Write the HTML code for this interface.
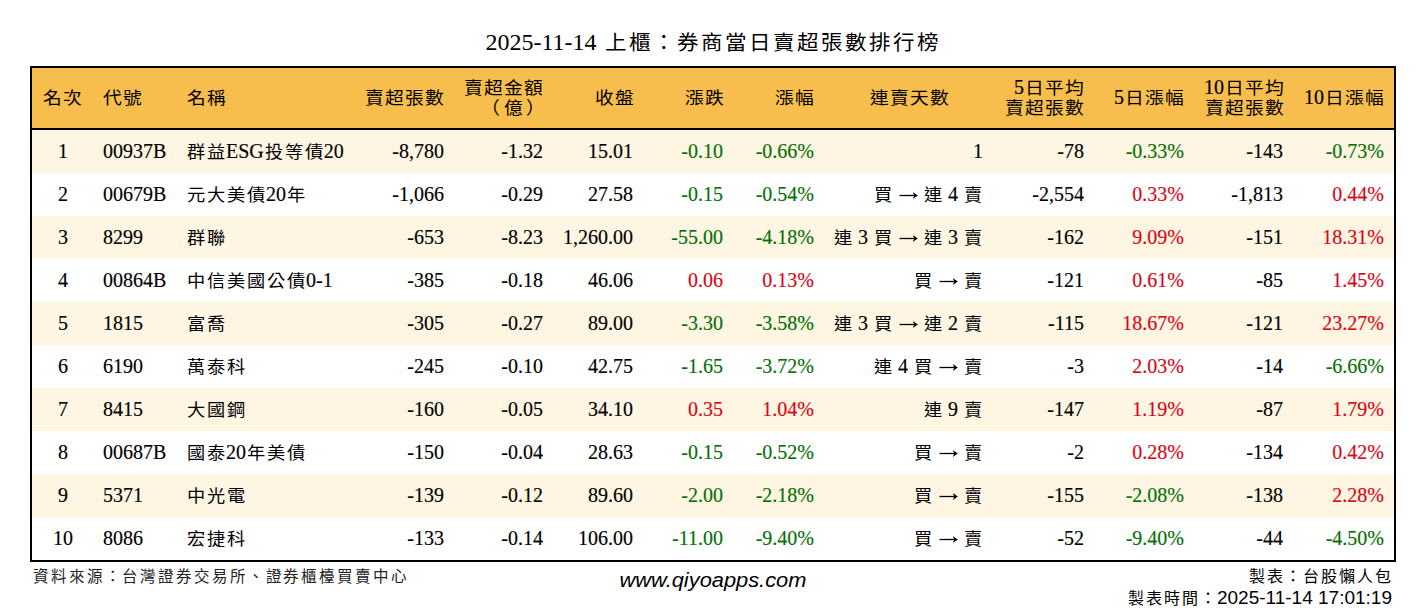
<!DOCTYPE html>
<html lang="zh-TW"><head><meta charset="utf-8">
<style>
html,body{margin:0;padding:0;background:#fff;}
body{width:1426px;height:612px;position:relative;overflow:hidden;font-family:"Liberation Serif",serif;color:#000;}
.a{position:absolute;white-space:nowrap;}
.r{position:absolute;white-space:nowrap;text-align:right;}
.d{font-size:20px;line-height:43px;height:43px;-webkit-text-stroke:0.15px currentColor;}
.h{font-size:20px;line-height:20px;-webkit-text-stroke:0.2px currentColor;}
i{font-style:normal;display:inline-block;text-align:center;}
.k{width:20px;font-size:17px;transform:scaleX(1.07);}
.h .k{font-size:17.5px;}
.d .k,.h .k{-webkit-text-stroke:0;}
.ar{width:20px;}
.ar svg{display:inline-block;vertical-align:-0.5px;}
.kt{width:24px;font-size:20.5px;transform:scaleX(1.05);}
.kf{width:17.9px;font-size:15.5px;color:#222;}
.kr{width:18px;font-size:16px;}
.g{color:#057005}.rd{color:#DA0514}
</style></head><body>

<div class="a" style="left:-1px;width:1426px;text-align:center;top:27px;font-size:24px;line-height:30px;">2025-11-14 <i class="kt">上</i><i class="kt">櫃</i><i class="kt">：</i><i class="kt">券</i><i class="kt">商</i><i class="kt">當</i><i class="kt">日</i><i class="kt">賣</i><i class="kt">超</i><i class="kt">張</i><i class="kt">數</i><i class="kt">排</i><i class="kt">行</i><i class="kt">榜</i></div>
<div class="a" style="left:30px;top:66px;width:1362px;height:492px;border:2px solid #000;"></div>
<div class="a" style="left:32px;top:68px;width:1362px;height:60px;background:#F7BE4D;"></div>
<div class="a" style="left:32px;top:128px;width:1362px;height:2px;background:#000;"></div>
<div class="a" style="left:32px;top:130px;width:1362px;height:43px;background:#FEF5E2;"></div>
<div class="a" style="left:32px;top:216px;width:1362px;height:43px;background:#FEF5E2;"></div>
<div class="a" style="left:32px;top:302px;width:1362px;height:43px;background:#FEF5E2;"></div>
<div class="a" style="left:32px;top:388px;width:1362px;height:43px;background:#FEF5E2;"></div>
<div class="a" style="left:32px;top:474px;width:1362px;height:43px;background:#FEF5E2;"></div>
<div class="a h" style="left:-38px;width:200px;text-align:center;top:87px;"><i class="k">名</i><i class="k">次</i></div>
<div class="a h" style="left:102px;top:87px;"><i class="k">代</i><i class="k">號</i></div>
<div class="a h" style="left:186px;top:87px;"><i class="k">名</i><i class="k">稱</i></div>
<div class="r h" style="right:982px;top:87px;"><i class="k">賣</i><i class="k">超</i><i class="k">張</i><i class="k">數</i></div>
<div class="r h" style="right:883px;top:77px;"><i class="k">賣</i><i class="k">超</i><i class="k">金</i><i class="k">額</i></div>
<div class="r h" style="right:883px;top:97px;"><i class="k" style="position:relative;left:-3px">（</i><i class="k">億</i><i class="k" style="position:relative;left:2px">）</i></div>
<div class="r h" style="right:792px;top:87px;"><i class="k">收</i><i class="k">盤</i></div>
<div class="r h" style="right:702px;top:87px;"><i class="k">漲</i><i class="k">跌</i></div>
<div class="r h" style="right:612px;top:87px;"><i class="k">漲</i><i class="k">幅</i></div>
<div class="a h" style="left:809px;width:200px;text-align:center;top:87px;"><i class="k">連</i><i class="k">賣</i><i class="k">天</i><i class="k">數</i></div>
<div class="r h" style="right:342px;top:77px;">5<i class="k">日</i><i class="k">平</i><i class="k">均</i></div>
<div class="r h" style="right:342px;top:97px;"><i class="k">賣</i><i class="k">超</i><i class="k">張</i><i class="k">數</i></div>
<div class="r h" style="right:242px;top:87px;">5<i class="k">日</i><i class="k">漲</i><i class="k">幅</i></div>
<div class="r h" style="right:142px;top:77px;">10<i class="k">日</i><i class="k">平</i><i class="k">均</i></div>
<div class="r h" style="right:142px;top:97px;"><i class="k">賣</i><i class="k">超</i><i class="k">張</i><i class="k">數</i></div>
<div class="r h" style="right:42px;top:87px;">10<i class="k">日</i><i class="k">漲</i><i class="k">幅</i></div>
<div class="a d" style="left:33px;width:60px;text-align:center;top:130px;">1</div>
<div class="a d" style="left:103px;top:130px;">00937B</div>
<div class="a d" style="left:186px;top:130px;"><i class="k">群</i><i class="k">益</i>ESG<i class="k">投</i><i class="k">等</i><i class="k">債</i>20</div>
<div class="r d" style="right:982px;top:130px;">-8,780</div>
<div class="r d" style="right:883px;top:130px;">-1.32</div>
<div class="r d" style="right:793px;top:130px;">15.01</div>
<div class="r d g" style="right:703px;top:130px;">-0.10</div>
<div class="r d g" style="right:612px;top:130px;">-0.66%</div>
<div class="r d" style="right:443px;top:130px;">1</div>
<div class="r d" style="right:342px;top:130px;">-78</div>
<div class="r d g" style="right:242px;top:130px;">-0.33%</div>
<div class="r d" style="right:143px;top:130px;">-143</div>
<div class="r d g" style="right:42px;top:130px;">-0.73%</div>
<div class="a d" style="left:33px;width:60px;text-align:center;top:173px;">2</div>
<div class="a d" style="left:103px;top:173px;">00679B</div>
<div class="a d" style="left:186px;top:173px;"><i class="k">元</i><i class="k">大</i><i class="k">美</i><i class="k">債</i>20<i class="k">年</i></div>
<div class="r d" style="right:982px;top:173px;">-1,066</div>
<div class="r d" style="right:883px;top:173px;">-0.29</div>
<div class="r d" style="right:793px;top:173px;">27.58</div>
<div class="r d g" style="right:703px;top:173px;">-0.15</div>
<div class="r d g" style="right:612px;top:173px;">-0.54%</div>
<div class="r d" style="right:443px;top:173px;"><i class="k">買</i> <i class="ar"><svg width="20" height="12" viewBox="0 0 20 12"><path d="M1.5 5.5H18" stroke="#000" stroke-width="1.3"/><path d="M14.8 1.9L19.8 5.5L14.8 9.1L16.3 5.5Z" fill="#000"/></svg></i> <i class="k">連</i> 4 <i class="k">賣</i></div>
<div class="r d" style="right:342px;top:173px;">-2,554</div>
<div class="r d rd" style="right:242px;top:173px;">0.33%</div>
<div class="r d" style="right:143px;top:173px;">-1,813</div>
<div class="r d rd" style="right:42px;top:173px;">0.44%</div>
<div class="a d" style="left:33px;width:60px;text-align:center;top:216px;">3</div>
<div class="a d" style="left:103px;top:216px;">8299</div>
<div class="a d" style="left:186px;top:216px;"><i class="k">群</i><i class="k">聯</i></div>
<div class="r d" style="right:982px;top:216px;">-653</div>
<div class="r d" style="right:883px;top:216px;">-8.23</div>
<div class="r d" style="right:793px;top:216px;">1,260.00</div>
<div class="r d g" style="right:703px;top:216px;">-55.00</div>
<div class="r d g" style="right:612px;top:216px;">-4.18%</div>
<div class="r d" style="right:443px;top:216px;"><i class="k">連</i> 3 <i class="k">買</i> <i class="ar"><svg width="20" height="12" viewBox="0 0 20 12"><path d="M1.5 5.5H18" stroke="#000" stroke-width="1.3"/><path d="M14.8 1.9L19.8 5.5L14.8 9.1L16.3 5.5Z" fill="#000"/></svg></i> <i class="k">連</i> 3 <i class="k">賣</i></div>
<div class="r d" style="right:342px;top:216px;">-162</div>
<div class="r d rd" style="right:242px;top:216px;">9.09%</div>
<div class="r d" style="right:143px;top:216px;">-151</div>
<div class="r d rd" style="right:42px;top:216px;">18.31%</div>
<div class="a d" style="left:33px;width:60px;text-align:center;top:259px;">4</div>
<div class="a d" style="left:103px;top:259px;">00864B</div>
<div class="a d" style="left:186px;top:259px;"><i class="k">中</i><i class="k">信</i><i class="k">美</i><i class="k">國</i><i class="k">公</i><i class="k">債</i>0-1</div>
<div class="r d" style="right:982px;top:259px;">-385</div>
<div class="r d" style="right:883px;top:259px;">-0.18</div>
<div class="r d" style="right:793px;top:259px;">46.06</div>
<div class="r d rd" style="right:703px;top:259px;">0.06</div>
<div class="r d rd" style="right:612px;top:259px;">0.13%</div>
<div class="r d" style="right:443px;top:259px;"><i class="k">買</i> <i class="ar"><svg width="20" height="12" viewBox="0 0 20 12"><path d="M1.5 5.5H18" stroke="#000" stroke-width="1.3"/><path d="M14.8 1.9L19.8 5.5L14.8 9.1L16.3 5.5Z" fill="#000"/></svg></i> <i class="k">賣</i></div>
<div class="r d" style="right:342px;top:259px;">-121</div>
<div class="r d rd" style="right:242px;top:259px;">0.61%</div>
<div class="r d" style="right:143px;top:259px;">-85</div>
<div class="r d rd" style="right:42px;top:259px;">1.45%</div>
<div class="a d" style="left:33px;width:60px;text-align:center;top:302px;">5</div>
<div class="a d" style="left:103px;top:302px;">1815</div>
<div class="a d" style="left:186px;top:302px;"><i class="k">富</i><i class="k">喬</i></div>
<div class="r d" style="right:982px;top:302px;">-305</div>
<div class="r d" style="right:883px;top:302px;">-0.27</div>
<div class="r d" style="right:793px;top:302px;">89.00</div>
<div class="r d g" style="right:703px;top:302px;">-3.30</div>
<div class="r d g" style="right:612px;top:302px;">-3.58%</div>
<div class="r d" style="right:443px;top:302px;"><i class="k">連</i> 3 <i class="k">買</i> <i class="ar"><svg width="20" height="12" viewBox="0 0 20 12"><path d="M1.5 5.5H18" stroke="#000" stroke-width="1.3"/><path d="M14.8 1.9L19.8 5.5L14.8 9.1L16.3 5.5Z" fill="#000"/></svg></i> <i class="k">連</i> 2 <i class="k">賣</i></div>
<div class="r d" style="right:342px;top:302px;">-115</div>
<div class="r d rd" style="right:242px;top:302px;">18.67%</div>
<div class="r d" style="right:143px;top:302px;">-121</div>
<div class="r d rd" style="right:42px;top:302px;">23.27%</div>
<div class="a d" style="left:33px;width:60px;text-align:center;top:345px;">6</div>
<div class="a d" style="left:103px;top:345px;">6190</div>
<div class="a d" style="left:186px;top:345px;"><i class="k">萬</i><i class="k">泰</i><i class="k">科</i></div>
<div class="r d" style="right:982px;top:345px;">-245</div>
<div class="r d" style="right:883px;top:345px;">-0.10</div>
<div class="r d" style="right:793px;top:345px;">42.75</div>
<div class="r d g" style="right:703px;top:345px;">-1.65</div>
<div class="r d g" style="right:612px;top:345px;">-3.72%</div>
<div class="r d" style="right:443px;top:345px;"><i class="k">連</i> 4 <i class="k">買</i> <i class="ar"><svg width="20" height="12" viewBox="0 0 20 12"><path d="M1.5 5.5H18" stroke="#000" stroke-width="1.3"/><path d="M14.8 1.9L19.8 5.5L14.8 9.1L16.3 5.5Z" fill="#000"/></svg></i> <i class="k">賣</i></div>
<div class="r d" style="right:342px;top:345px;">-3</div>
<div class="r d rd" style="right:242px;top:345px;">2.03%</div>
<div class="r d" style="right:143px;top:345px;">-14</div>
<div class="r d g" style="right:42px;top:345px;">-6.66%</div>
<div class="a d" style="left:33px;width:60px;text-align:center;top:388px;">7</div>
<div class="a d" style="left:103px;top:388px;">8415</div>
<div class="a d" style="left:186px;top:388px;"><i class="k">大</i><i class="k">國</i><i class="k">鋼</i></div>
<div class="r d" style="right:982px;top:388px;">-160</div>
<div class="r d" style="right:883px;top:388px;">-0.05</div>
<div class="r d" style="right:793px;top:388px;">34.10</div>
<div class="r d rd" style="right:703px;top:388px;">0.35</div>
<div class="r d rd" style="right:612px;top:388px;">1.04%</div>
<div class="r d" style="right:443px;top:388px;"><i class="k">連</i> 9 <i class="k">賣</i></div>
<div class="r d" style="right:342px;top:388px;">-147</div>
<div class="r d rd" style="right:242px;top:388px;">1.19%</div>
<div class="r d" style="right:143px;top:388px;">-87</div>
<div class="r d rd" style="right:42px;top:388px;">1.79%</div>
<div class="a d" style="left:33px;width:60px;text-align:center;top:431px;">8</div>
<div class="a d" style="left:103px;top:431px;">00687B</div>
<div class="a d" style="left:186px;top:431px;"><i class="k">國</i><i class="k">泰</i>20<i class="k">年</i><i class="k">美</i><i class="k">債</i></div>
<div class="r d" style="right:982px;top:431px;">-150</div>
<div class="r d" style="right:883px;top:431px;">-0.04</div>
<div class="r d" style="right:793px;top:431px;">28.63</div>
<div class="r d g" style="right:703px;top:431px;">-0.15</div>
<div class="r d g" style="right:612px;top:431px;">-0.52%</div>
<div class="r d" style="right:443px;top:431px;"><i class="k">買</i> <i class="ar"><svg width="20" height="12" viewBox="0 0 20 12"><path d="M1.5 5.5H18" stroke="#000" stroke-width="1.3"/><path d="M14.8 1.9L19.8 5.5L14.8 9.1L16.3 5.5Z" fill="#000"/></svg></i> <i class="k">賣</i></div>
<div class="r d" style="right:342px;top:431px;">-2</div>
<div class="r d rd" style="right:242px;top:431px;">0.28%</div>
<div class="r d" style="right:143px;top:431px;">-134</div>
<div class="r d rd" style="right:42px;top:431px;">0.42%</div>
<div class="a d" style="left:33px;width:60px;text-align:center;top:474px;">9</div>
<div class="a d" style="left:103px;top:474px;">5371</div>
<div class="a d" style="left:186px;top:474px;"><i class="k">中</i><i class="k">光</i><i class="k">電</i></div>
<div class="r d" style="right:982px;top:474px;">-139</div>
<div class="r d" style="right:883px;top:474px;">-0.12</div>
<div class="r d" style="right:793px;top:474px;">89.60</div>
<div class="r d g" style="right:703px;top:474px;">-2.00</div>
<div class="r d g" style="right:612px;top:474px;">-2.18%</div>
<div class="r d" style="right:443px;top:474px;"><i class="k">買</i> <i class="ar"><svg width="20" height="12" viewBox="0 0 20 12"><path d="M1.5 5.5H18" stroke="#000" stroke-width="1.3"/><path d="M14.8 1.9L19.8 5.5L14.8 9.1L16.3 5.5Z" fill="#000"/></svg></i> <i class="k">賣</i></div>
<div class="r d" style="right:342px;top:474px;">-155</div>
<div class="r d g" style="right:242px;top:474px;">-2.08%</div>
<div class="r d" style="right:143px;top:474px;">-138</div>
<div class="r d rd" style="right:42px;top:474px;">2.28%</div>
<div class="a d" style="left:33px;width:60px;text-align:center;top:517px;">10</div>
<div class="a d" style="left:103px;top:517px;">8086</div>
<div class="a d" style="left:186px;top:517px;"><i class="k">宏</i><i class="k">捷</i><i class="k">科</i></div>
<div class="r d" style="right:982px;top:517px;">-133</div>
<div class="r d" style="right:883px;top:517px;">-0.14</div>
<div class="r d" style="right:793px;top:517px;">106.00</div>
<div class="r d g" style="right:703px;top:517px;">-11.00</div>
<div class="r d g" style="right:612px;top:517px;">-9.40%</div>
<div class="r d" style="right:443px;top:517px;"><i class="k">買</i> <i class="ar"><svg width="20" height="12" viewBox="0 0 20 12"><path d="M1.5 5.5H18" stroke="#000" stroke-width="1.3"/><path d="M14.8 1.9L19.8 5.5L14.8 9.1L16.3 5.5Z" fill="#000"/></svg></i> <i class="k">賣</i></div>
<div class="r d" style="right:342px;top:517px;">-52</div>
<div class="r d g" style="right:242px;top:517px;">-9.40%</div>
<div class="r d" style="right:143px;top:517px;">-44</div>
<div class="r d g" style="right:42px;top:517px;">-4.50%</div>
<div class="a" style="left:32px;top:566px;font-size:15px;line-height:22px;"><i class="kf">資</i><i class="kf">料</i><i class="kf">來</i><i class="kf">源</i><i class="kf">：</i><i class="kf">台</i><i class="kf">灣</i><i class="kf">證</i><i class="kf">券</i><i class="kf">交</i><i class="kf">易</i><i class="kf">所</i><i class="kf">、</i><i class="kf">證</i><i class="kf">券</i><i class="kf">櫃</i><i class="kf">檯</i><i class="kf">買</i><i class="kf">賣</i><i class="kf">中</i><i class="kf">心</i></div>
<div class="a" style="left:0;width:1426px;text-align:center;top:567px;font-family:'Liberation Sans',sans-serif;font-style:italic;font-size:20.5px;line-height:26px;transform:scaleX(1.065);">www.qiyoapps.com</div>
<div class="r" style="right:34px;top:566px;font-size:15px;line-height:22px;"><i class="kr">製</i><i class="kr">表</i><i class="kr">：</i><i class="kr">台</i><i class="kr">股</i><i class="kr">懶</i><i class="kr">人</i><i class="kr">包</i></div>
<div class="r" style="right:34px;top:587px;font-size:15px;line-height:22px;"><i class="kr">製</i><i class="kr">表</i><i class="kr">時</i><i class="kr">間</i><i class="kr">：</i><span style="font-family:'Liberation Sans',sans-serif;font-size:19px;">2025-11-14 17:01:19</span></div>
</body></html>
